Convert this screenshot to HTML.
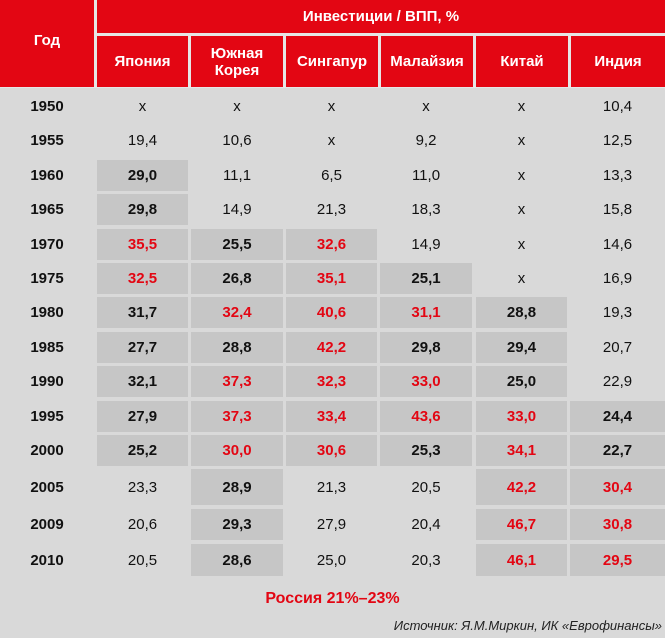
<!DOCTYPE html>
<html><head><meta charset="utf-8"><style>
body{margin:0;width:665px;height:638px;background:#d9d9d9;position:relative;overflow:hidden;font-family:"Liberation Sans","DejaVu Sans",sans-serif;}
div.c{position:absolute;display:flex;align-items:center;justify-content:center;text-align:center;font-size:15px;color:#111;}
.h{background:#e30613;color:#fff!important;font-weight:bold;}
.g{background:#c6c6c6;font-weight:bold;}
.r{color:#e30613!important;}
.y{font-weight:bold;}
</style></head><body>
<div style="position:absolute;left:0;top:0;width:665px;height:88px;background:#e6e6e6"></div>
<div class="c h" style="left:0;top:0;width:94px;height:87px;padding-bottom:6px;box-sizing:border-box">Год</div>
<div class="c h" style="left:97px;top:0;width:568px;height:33px">Инвестиции / ВПП, %</div>
<div class="c h" style="left:97px;top:36px;width:91px;height:51px">Япония</div>
<div class="c h" style="left:191px;top:36px;width:92px;height:51px;line-height:17px">Южная<br>Корея</div>
<div class="c h" style="left:286px;top:36px;width:92px;height:51px">Сингапур</div>
<div class="c h" style="left:381px;top:36px;width:92px;height:51px">Малайзия</div>
<div class="c h" style="left:476px;top:36px;width:92px;height:51px">Китай</div>
<div class="c h" style="left:571px;top:36px;width:94px;height:51px">Индия</div>
<div id="t"></div>
<div class="c r" style="left:0;top:586px;width:665px;height:26px;font-weight:bold;font-size:16px">Россия 21%–23%</div>
<div class="c" style="left:300px;top:614px;width:362px;height:22px;justify-content:flex-end;font-style:italic;font-size:13px;color:#222">Источник: Я.М.Миркин, ИК «Еврофинансы»</div>
<script>
var X=[97,191,286,380,476,570],W=[91,92,91,92,91,95];
var D=[
["1950","x","x","x","x","x","10,4"],
["1955","19,4","10,6","x","9,2","x","12,5"],
["1960","g29,0","11,1","6,5","11,0","x","13,3"],
["1965","g29,8","14,9","21,3","18,3","x","15,8"],
["1970","r35,5","g25,5","r32,6","14,9","x","14,6"],
["1975","r32,5","g26,8","r35,1","g25,1","x","16,9"],
["1980","g31,7","r32,4","r40,6","r31,1","g28,8","19,3"],
["1985","g27,7","g28,8","r42,2","g29,8","g29,4","20,7"],
["1990","g32,1","r37,3","r32,3","r33,0","g25,0","22,9"],
["1995","g27,9","r37,3","r33,4","r43,6","r33,0","g24,4"],
["2000","g25,2","r30,0","r30,6","g25,3","r34,1","g22,7"],
["2005","23,3","g28,9","21,3","20,5","r42,2","r30,4"],
["2009","20,6","g29,3","27,9","20,4","r46,7","r30,8"],
["2010","20,5","g28,6","25,0","20,3","r46,1","r29,5"]];
var h="";
D.forEach(function(r,i){
 var top,ht;
 if(i<11){top=91+34.4*i;ht=31;}else if(i==11){top=469;ht=36;}else if(i==12){top=509;ht=31;}else{top=544;ht=32;}
 h+='<div class="c y" style="left:0;top:'+top+'px;width:94px;height:'+ht+'px">'+r[0]+'</div>';
 for(var j=1;j<7;j++){var v=r[j],cl="c";
  if(v[0]=="g"){cl+=" g";v=v.slice(1);}
  else if(v[0]=="r"){cl+=" g r";v=v.slice(1);}
  h+='<div class="'+cl+'" style="left:'+X[j-1]+'px;top:'+top+'px;width:'+W[j-1]+'px;height:'+ht+'px">'+v+'</div>';}
});
document.getElementById("t").innerHTML=h;
</script>
</body></html>
